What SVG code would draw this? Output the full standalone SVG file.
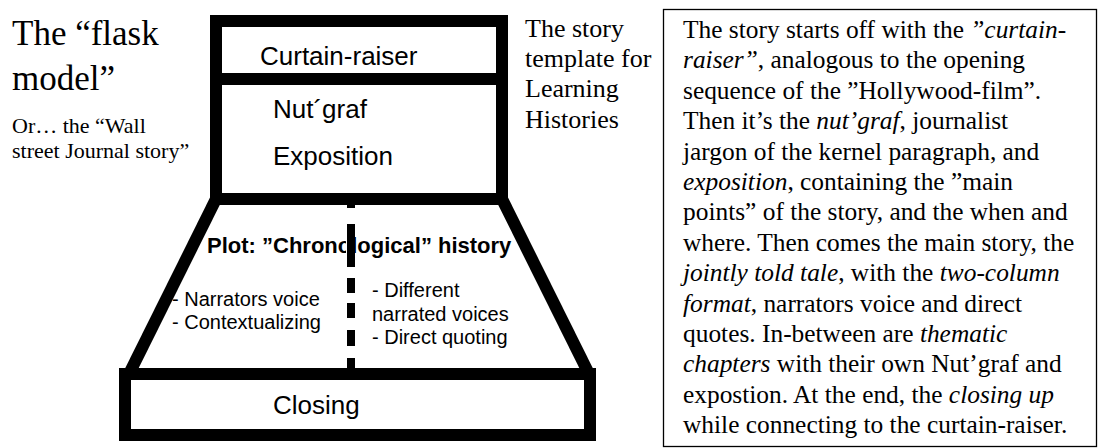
<svg xmlns="http://www.w3.org/2000/svg" width="1098" height="448" viewBox="0 0 1098 448">
<style>
.bg{fill:#fff}
.frame{fill:none;stroke:#000;stroke-width:12;stroke-linejoin:miter;stroke-linecap:butt}
.serif{font-family:"Liberation Serif","Times New Roman",serif;fill:#000}
.sans{font-family:"Liberation Sans",Arial,sans-serif;fill:#000}
.lbl{font-size:26px}
.small{font-size:20px}
.desc{font-size:25.4px}
.it{font-style:italic}
.dash{fill:#000}
</style>
<rect class="bg" x="0" y="0" width="1098" height="448"/>

<g id="title">
<text class="serif" x="12" y="45" font-size="35">The “flask</text>
<text class="serif" x="12" y="90" font-size="35">model”</text>
<text class="serif" x="12" y="133" font-size="22">Or… the “Wall</text>
<text class="serif" x="12" y="158" font-size="22">street Journal story”</text>
</g>

<g id="flask-frame">
<rect class="frame" x="216" y="21" width="286" height="178"/>
<line class="frame" x1="210" y1="79" x2="508" y2="79"/>
<line class="frame" x1="216" y1="199" x2="129" y2="374"/>
<line class="frame" x1="502" y1="199" x2="589" y2="374"/>
<rect class="frame" x="125" y="374" width="465" height="61"/>
</g>

<g id="curtain-raiser">
<text class="sans lbl" x="260" y="65">Curtain-raiser</text>
</g>

<g id="nutgraf-exposition">
<text class="sans lbl" x="273" y="118">Nut´graf</text>
<text class="sans lbl" x="273" y="165">Exposition</text>
</g>

<g id="plot">
<text class="sans" x="207" y="253" font-size="22" font-weight="bold">Plot: ”Chronological” history</text>
<rect x="346" y="238" width="2" height="20" fill="#fff"/>
<g class="dash">
<rect x="347" y="199" width="8" height="9"/>
<rect x="347" y="224" width="8" height="43"/>
<rect x="347" y="278" width="8" height="15"/>
<rect x="347" y="303" width="8" height="15"/>
<rect x="347" y="330" width="8" height="16"/>
<rect x="347" y="358" width="8" height="16"/>
</g>
<text class="sans small" x="172" y="306">- Narrators voice</text>
<text class="sans small" x="172" y="329">- Contextualizing</text>
<text class="sans small" x="372" y="297">- Different</text>
<text class="sans small" x="372" y="321">narrated voices</text>
<text class="sans small" x="372" y="344">- Direct quoting</text>
</g>

<g id="closing">
<text class="sans lbl" x="273" y="414">Closing</text>
</g>

<g id="template-note">
<text class="serif" x="525" y="37" font-size="26">The story</text>
<text class="serif" x="525" y="67" font-size="26">template for</text>
<text class="serif" x="525" y="97" font-size="26">Learning</text>
<text class="serif" x="525" y="128" font-size="26">Histories</text>
</g>

<g id="description">
<rect x="663.5" y="9.5" width="433" height="437" fill="none" stroke="#000" stroke-width="1.3"/>
<g class="serif desc">
<text x="683" y="38">The story starts off with the <tspan class="it">”curtain-</tspan></text>
<text x="683" y="68.4"><tspan class="it">raiser”</tspan>, analogous to the opening</text>
<text x="683" y="98.8">sequence of the ”Hollywood-film”.</text>
<text x="683" y="129.2">Then it’s the <tspan class="it">nut’graf</tspan>, journalist</text>
<text x="683" y="159.6">jargon of the kernel paragraph, and</text>
<text x="683" y="190"><tspan class="it">exposition</tspan>, containing the ”main</text>
<text x="683" y="220.4">points” of the story, and the when and</text>
<text x="683" y="250.8">where. Then comes the main story, the</text>
<text x="683" y="281.2"><tspan class="it">jointly told tale</tspan>, with the <tspan class="it">two-column</tspan></text>
<text x="683" y="311.6"><tspan class="it">format</tspan>, narrators voice and direct</text>
<text x="683" y="342">quotes. In-between are <tspan class="it">thematic</tspan></text>
<text x="683" y="372.4"><tspan class="it">chapters</tspan> with their own Nut’graf and</text>
<text x="683" y="402.8">expostion. At the end, the <tspan class="it">closing up</tspan></text>
<text x="683" y="433.2">while connecting to the curtain-raiser.</text>
</g>
</g>
</svg>
